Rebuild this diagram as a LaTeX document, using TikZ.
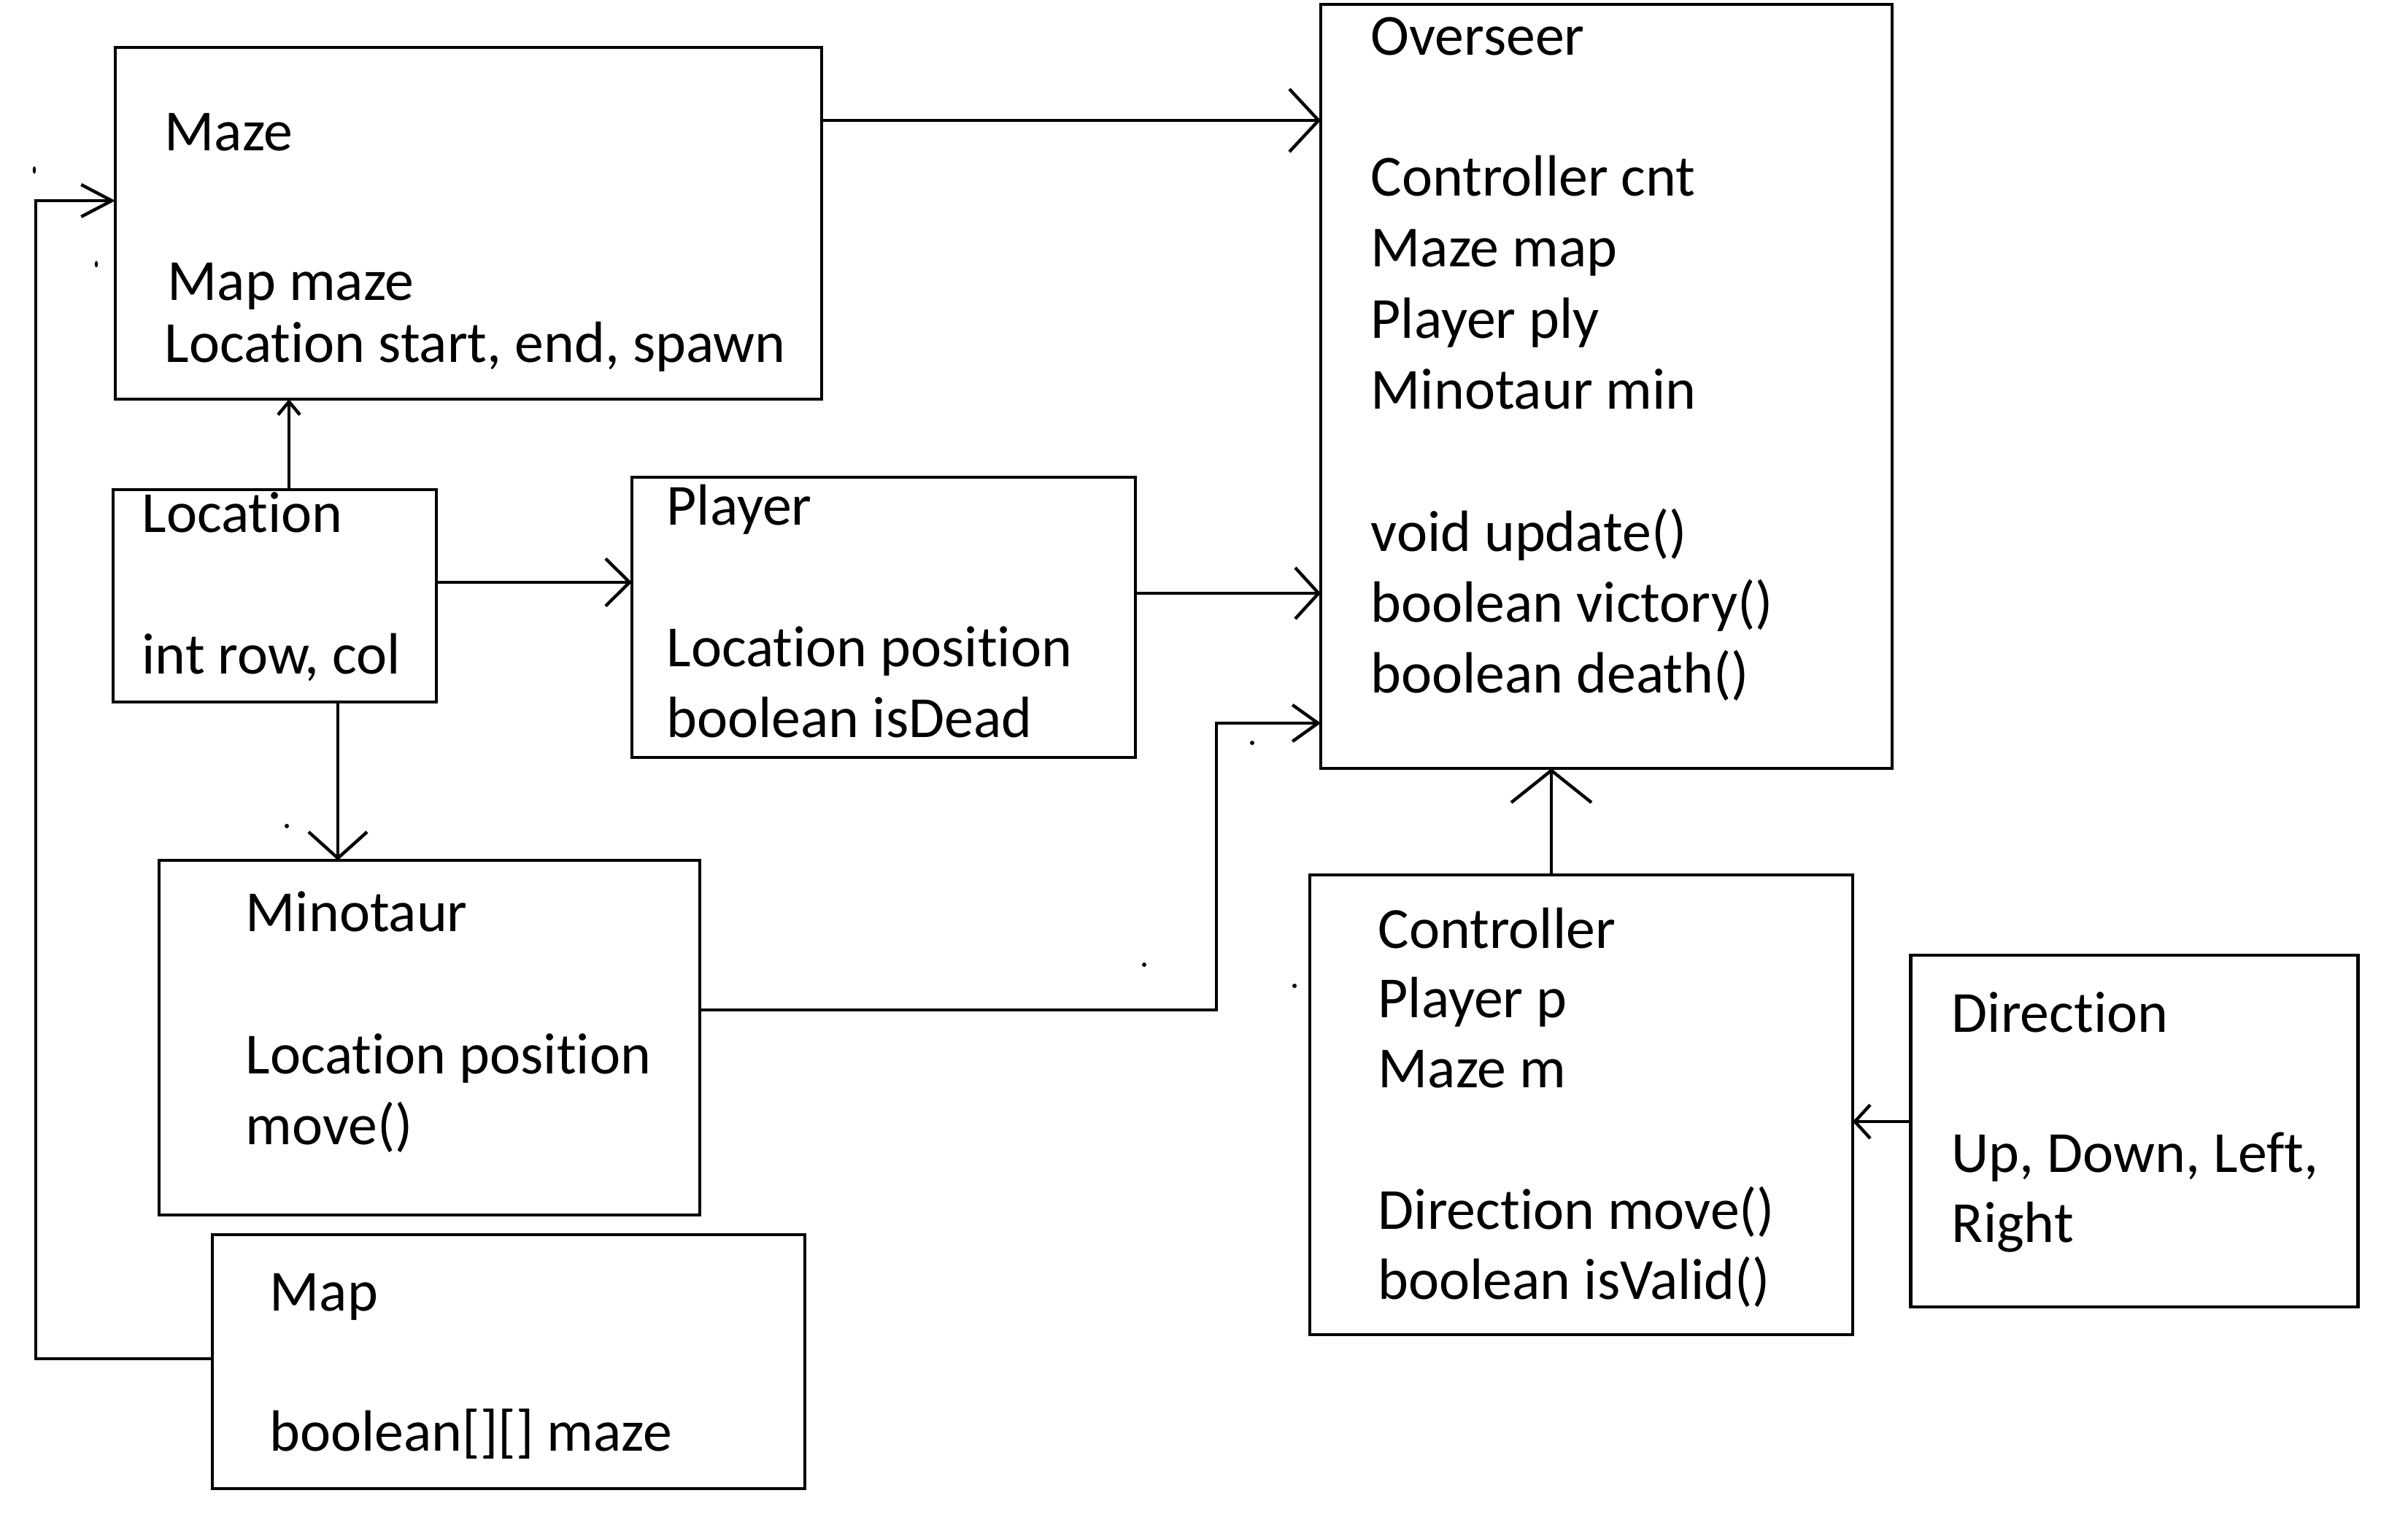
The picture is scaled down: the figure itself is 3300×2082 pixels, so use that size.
\documentclass[tikz,border=0pt]{standalone}
\usepackage{fontspec}
\setmainfont[Ligatures=NoCommon]{Carlito}
\usetikzlibrary{arrows.meta}
\begin{document}
\begin{tikzpicture}[x=0.1mm,y=-0.1mm,
  box/.style={draw, line width=1.4pt, inner sep=0pt, outer sep=0pt, anchor=north west},
  txt/.style={anchor=base west, inner sep=0pt, font=\fontsize{22.7}{27}\selectfont},
  conn/.style={line width=1.25pt},
  dotmark/.style={fill=black, draw=none}
]
\useasboundingbox (0,0) rectangle (3300,2082);
% boxes
\node[box, minimum width=96.8mm, minimum height=48.2mm] (maze) at (158,65) {};
\node[box, minimum width=78.3mm, minimum height=104.7mm] (ov) at (1810,6) {};
\node[box, minimum width=44.3mm, minimum height=29.1mm] (loc) at (155,671) {};
\node[box, minimum width=69.0mm, minimum height=38.4mm] (pl) at (866,654) {};
\node[box, minimum width=74.1mm, minimum height=48.6mm] (min) at (218,1179) {};
\node[box, minimum width=81.2mm, minimum height=34.8mm] (map) at (291,1692) {};
\node[box, minimum width=74.4mm, minimum height=63.0mm] (ctl) at (1795,1199) {};
\node[box, minimum width=61.3mm, minimum height=48.2mm] (dir) at (2618,1309) {};
% texts
\node[txt] (mz1) at (225,206) {Maze};
\node[txt] (mz2) at (229,411) {Map maze};
\node[txt] (mz3) at (225,496) {Location start, end, spawn};
\node[txt] (ov1) at (1878,75) {Overseer};
\node[txt] (ov2) at (1878,268) {Controller cnt};
\node[txt] (ov3) at (1878,365) {Maze map};
\node[txt] (ov4) at (1878,463) {Player ply};
\node[txt] (ov5) at (1878,560) {Minotaur min};
\node[txt] (ov6) at (1878,755) {void update()};
\node[txt] (ov7) at (1878,852) {boolean victory()};
\node[txt] (ov8) at (1878,949) {boolean death()};
\node[txt] (lc1) at (194,729) {Location};
\node[txt] (lc2) at (194,923) {int row, col};
\node[txt] (pl1) at (913,719) {Player};
\node[txt] (pl2) at (913,913) {Location position};
\node[txt] (pl3) at (913,1010) {boolean isDead};
\node[txt] (mn1) at (336,1276) {Minotaur};
\node[txt] (mn2) at (336,1471) {Location position};
\node[txt] (mn3) at (336,1568) {move()};
\node[txt] (mp1) at (369,1796) {Map};
\node[txt] (mp2) at (369,1988) {boolean[][] maze};
\node[txt] (ct1) at (1888,1299) {Controller};
\node[txt] (ct2) at (1888,1394) {Player p};
\node[txt] (ct3) at (1888,1490) {Maze m};
\node[txt] (ct4) at (1888,1684) {Direction move()};
\node[txt] (ct5) at (1888,1780) {boolean isValid()};
\node[txt] (dr1) at (2674,1414) {Direction};
\node[txt] (dr2) at (2674,1606) {Up, Down, Left,};
\node[txt] (dr3) at (2674,1702) {Right};
% connector corners
\coordinate (c1) at (49,1862);
\coordinate (c2) at (49,275);
\coordinate (c3) at (1667,1384);
\coordinate (c4) at (1667,991);
% connectors
\draw[conn, -{Straight Barb[length=4mm, width=8.6mm]}] (maze.east |- 0,165) -- (ov.west |- 0,165);
\draw[conn, -{Straight Barb[length=4.2mm, width=4.4mm]}] (map.west |- c1) -- (c1) -- (c2) -- (maze.west |- c2);
\draw[conn, -{Straight Barb[length=1.8mm, width=3mm]}] (loc.north -| 396,0) -- (maze.south -| 396,0);
\draw[conn, -{Straight Barb[length=3.3mm, width=6.5mm]}] (loc.east |- 0,798) -- (pl.west |- 0,798);
\draw[conn, -{Straight Barb[length=3.6mm, width=8mm]}] (loc.south -| 463,0) -- (min.north -| 463,0);
\draw[conn, -{Straight Barb[length=3.2mm, width=7mm]}] (pl.east |- 0,813) -- (ov.west |- 0,813);
\draw[conn, -{Straight Barb[length=3.5mm, width=5mm]}] (min.east |- c3) -- (c3) -- (c4) -- (ov.west |- c4);
\draw[conn, -{Straight Barb[length=4.4mm, width=11mm]}] (ctl.north -| 2126,0) -- (ov.south -| 2126,0);
\draw[conn, -{Straight Barb[length=2.1mm, width=4.6mm]}] (dir.west |- 0,1537) -- (ctl.east |- 0,1537);
% stray marks
\fill[dotmark] (47,233) ellipse (2.2 and 5);
\fill[dotmark] (132,362) ellipse (2.2 and 4.5);
\fill[dotmark] (393,1132) circle (3);
\fill[dotmark] (1716,1018) circle (3);
\fill[dotmark] (1568,1322) circle (3);
\fill[dotmark] (1774,1351) circle (3);
\end{tikzpicture}
\end{document}
